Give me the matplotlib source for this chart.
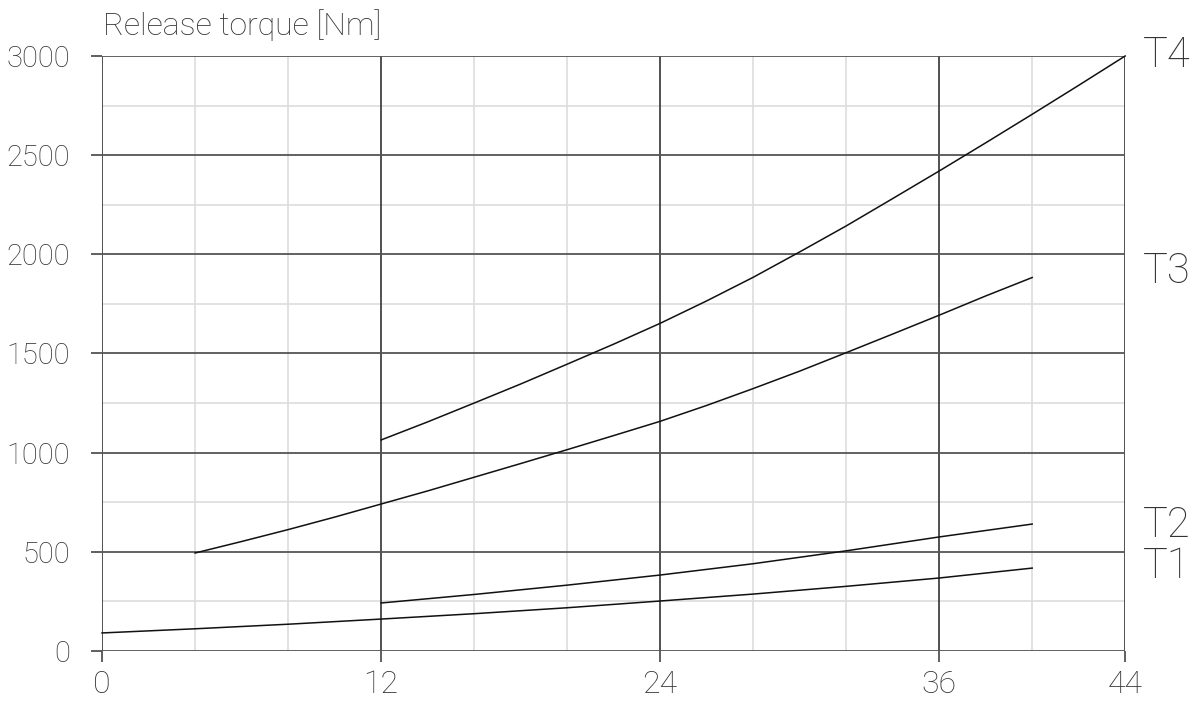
"""Release torque curves T1..T4"""

import numpy as np
import matplotlib.pyplot as plt

plt.rcParams['font.family'] = ['Roboto', 'DejaVu Sans']

# curve data
x_t1 = [0, 4, 8, 12, 16, 20, 24, 28, 32, 36, 40]
y_t1 = [91, 112, 135, 161, 188, 218, 252, 287, 326, 368, 418]

x_t2 = [12, 16, 20, 24, 28, 32, 36, 40]
y_t2 = [242, 285, 332, 383, 440, 505, 575, 640]

x_t3 = [4, 6, 8, 10, 12, 14, 16, 18, 20, 22, 24, 26, 28, 30, 32, 34, 36, 38, 40]
y_t3 = [494, 552, 612, 675, 741, 807, 876, 945, 1015, 1086, 1158, 1238,
        1323, 1411, 1504, 1598, 1693, 1790, 1883]

x_t4 = [12, 14, 16, 18, 20, 22, 24, 26, 28, 30, 32, 34, 36, 38, 40, 42, 44]
y_t4 = [1064, 1155, 1250, 1346, 1446, 1547, 1652, 1765, 1884, 2012, 2143,
        2281, 2420, 2562, 2706, 2852, 3000]

curve_names = ['T1', 'T2', 'T3', 'T4']
label_y = [424, 635, 1911, 3000]

x_ticks = [0, 12, 24, 36, 44]
y_ticks = [0, 500, 1000, 1500, 2000, 2500, 3000]
x_minor = [4, 8, 16, 20, 28, 32, 40]
y_minor = [250, 750, 1250, 1750, 2250, 2750]

fig = plt.figure(figsize=(12.02, 7.05), dpi=100)
ax = fig.add_axes([0.0849, 0.0766, 0.8512, 0.8440])

# grid
for xm in x_minor:
    ax.axvline(xm, color='#dddddd', lw=1.2, zorder=1)
for ym in y_minor:
    ax.axhline(ym, color='#dddddd', lw=1.2, zorder=1)
for xv in x_ticks:
    ax.axvline(xv, color='#333333', lw=1.2, zorder=2)
for yv in y_ticks:
    ax.axhline(yv, color='#555555', lw=1.3, zorder=2)

curves = [(x_t1, y_t1), (x_t2, y_t2), (x_t3, y_t3), (x_t4, y_t4)]
for xs, ys in curves:
    ax.plot(xs, ys, color='#111111', lw=1.1, zorder=3, clip_on=False)

for name, yl in zip(curve_names, label_y):
    ax.text(45.8, yl, name, fontsize=30, fontweight='light', color='#333333',
            ha='center', va='center', clip_on=False)

ax.set_xlim(0, 44)
ax.set_ylim(0, 3000)
ax.set_xticks(x_ticks)
ax.set_yticks(y_ticks)
ax.set_xticklabels([str(v) for v in x_ticks])
ax.set_yticklabels([str(v) for v in y_ticks])
ax.tick_params(axis='both', length=8, width=1.2, color='#444444',
               labelcolor='#333333')
ax.tick_params(axis='x', pad=6, labelsize=23)
ax.tick_params(axis='y', pad=15, labelsize=21)
for lab in ax.get_xticklabels() + ax.get_yticklabels():
    lab.set_fontweight('light')

for s in ax.spines.values():
    s.set_visible(False)

ax.text(0.05, 3075, 'Release torque [Nm]', fontsize=23, fontweight='light',
        color='#333333', ha='left', va='bottom', clip_on=False)

plt.savefig('out.png')
